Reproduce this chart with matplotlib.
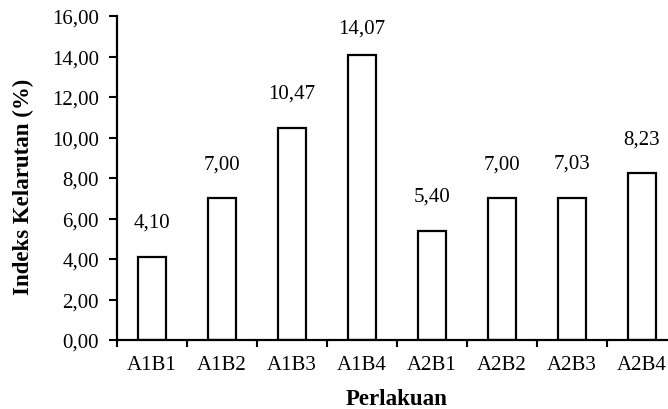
import numpy as np
import matplotlib.pyplot as plt
from matplotlib.ticker import FuncFormatter, FixedLocator

# data
perlakuan = ["A1B1", "A1B2", "A1B3", "A1B4", "A2B1", "A2B2", "A2B3", "A2B4"]
indeks = [4.10, 7.00, 10.47, 14.07, 5.40, 7.00, 7.03, 8.23]

plt.rcParams['font.family'] = ['Liberation Serif', 'DejaVu Serif']

fig = plt.figure(figsize=(6.68, 4.10), dpi=100)
ax = fig.add_axes([117 / 668, 69 / 410, 560 / 668, 324 / 410])

x = np.arange(len(perlakuan))
ax.bar(x, indeks, width=0.4, color="white", edgecolor="black", linewidth=1.6, zorder=2)

for xi, v in zip(x, indeks):
    lab = f"{v:.2f}".replace(".", ",")
    ax.text(xi, min(v + 1.48, 15.2), lab, ha="center", va="baseline", fontsize=15)

ax.set_xlim(-0.5, len(perlakuan) - 0.5)
ax.set_ylim(0, 16)
ax.set_yticks(np.arange(0, 17, 2))
ax.yaxis.set_major_formatter(FuncFormatter(lambda v, p: f"{v:.2f}".replace(".", ",")))

# tick marks between categories, labels at centres
ax.xaxis.set_major_locator(FixedLocator(np.arange(-0.5, len(perlakuan), 1.0)))
ax.xaxis.set_minor_locator(FixedLocator(x))
ax.set_xticklabels([])
ax.set_xticklabels(perlakuan, minor=True)
ax.tick_params(axis="x", which="major", length=5, width=1.5, direction="out")
ax.tick_params(axis="x", which="minor", length=0, pad=11, labelsize=15)
ax.tick_params(axis="y", length=6, width=1.5, direction="out", labelsize=15, pad=7)

for s in ["top", "right"]:
    ax.spines[s].set_visible(False)
for s in ["left", "bottom"]:
    ax.spines[s].set_linewidth(1.6)

ax.set_xlabel("Perlakuan", fontsize=16.5, fontweight="bold", labelpad=10)
ax.set_ylabel("Indeks Kelarutan (%)", fontsize=16.5, fontweight="bold")
ax.yaxis.set_label_coords(-0.148, 0.475)

fig.savefig("out.png", dpi=100)
